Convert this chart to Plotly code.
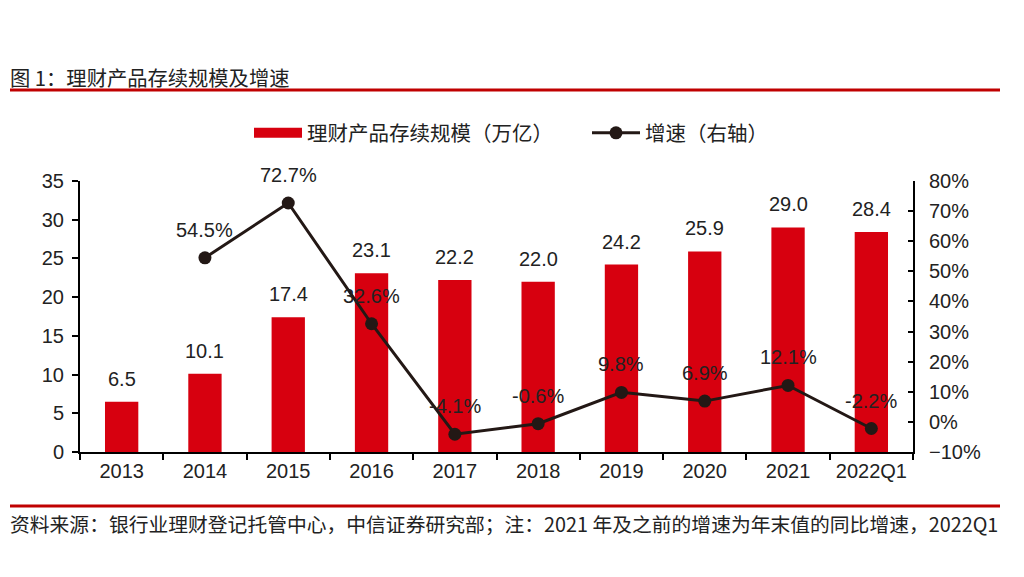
import plotly.graph_objects as go

categories = ["2013", "2014", "2015", "2016", "2017", "2018", "2019", "2020", "2021", "2022Q1"]
scale = [6.5, 10.1, 17.4, 23.1, 22.2, 22.0, 24.2, 25.9, 29.0, 28.4]
growth = [None, 54.5, 72.7, 32.6, -4.1, -0.6, 9.8, 6.9, 12.1, -2.2]

FONT = "Liberation Sans, Arial, Noto Sans CJK SC, sans-serif"
CJK = "Noto Sans CJK SC, Liberation Sans, sans-serif"
RED = "#D7000F"
DARK = "#231815"
TXT = "#222222"

L, R, T, B = 80, 111, 181, 125
PH = 577 - T - B
PW = 1024 - L - R


def py(px):
    return (577 - B - px) / PH


def pxr(px):
    return (px - L) / PW


fig = go.Figure()
fig.add_trace(go.Bar(
    x=categories, y=scale, name="理财产品存续规模（万亿）", showlegend=False,
    marker=dict(color=RED, line=dict(width=0)), width=0.4,
))
# legend stand-in for the bar series (wide red swatch)
fig.add_trace(go.Scatter(
    x=[categories[0]], y=[None], name="理财产品存续规模（万亿）", mode="lines",
    line=dict(color=RED, width=11), showlegend=True,
))
fig.add_trace(go.Scatter(
    x=categories, y=growth, name="增速（右轴）", yaxis="y2",
    mode="lines+markers", line=dict(color=DARK, width=3),
    marker=dict(color=DARK, size=13), connectgaps=False,
))

for i, v in enumerate(scale):
    fig.add_annotation(x=i, y=v, text=f"{v:.1f}", showarrow=False, yshift=23,
                       font=dict(size=20, color=TXT, family=FONT))
for i, g in enumerate(growth):
    if g is None:
        continue
    fig.add_annotation(x=i, y=g, yref="y2", text=f"{g:.1f}%", showarrow=False,
                       yshift=28, font=dict(size=20, color=TXT, family=FONT))

fig.update_layout(
    width=1024, height=577, plot_bgcolor="white", paper_bgcolor="white",
    margin=dict(l=L, r=R, t=T, b=B),
    showlegend=True,
    legend=dict(orientation="h", x=pxr(249), xanchor="left", y=py(133), yanchor="middle",
                font=dict(size=20.5, family=CJK, color=TXT), itemwidth=48,
                entrywidth=275, traceorder="normal"),
    xaxis=dict(type="category", range=[-0.5, 9.5], showline=True, linecolor="black", linewidth=2,
               ticks="outside", tickson="boundaries", ticklen=6, tickcolor="black", tickwidth=2,
               tickfont=dict(size=20, family=FONT, color=TXT), showgrid=False),
    yaxis=dict(range=[0, 35], dtick=5, showline=True, linecolor="black", linewidth=2,
               ticks="outside", ticklen=6, tickcolor="black", tickwidth=2, ticklabelstandoff=4,
               tickfont=dict(size=20, family=FONT, color=TXT), showgrid=False, zeroline=False),
    yaxis2=dict(range=[-10, 80], dtick=10, overlaying="y", side="right", ticksuffix="%",
                showline=True, linecolor="black", linewidth=2,
                ticks="inside", ticklen=5, tickcolor="black", tickwidth=2, ticklabelstandoff=10,
                tickfont=dict(size=20, family=FONT, color=TXT), showgrid=False, zeroline=False),
)

fig.add_annotation(xref="paper", yref="paper", x=pxr(8), y=py(77), xanchor="left", yanchor="middle",
                   text="图 1：理财产品存续规模及增速", showarrow=False,
                   font=dict(size=20.3, family=CJK, color=TXT))
fig.add_shape(type="line", xref="paper", yref="paper", x0=pxr(10), x1=pxr(1000),
              y0=py(90), y1=py(90), line=dict(color="#C00000", width=3))
fig.add_shape(type="line", xref="paper", yref="paper", x0=pxr(10), x1=pxr(1000),
              y0=py(506), y1=py(506), line=dict(color="#C00000", width=3))
fig.add_annotation(xref="paper", yref="paper", x=pxr(8), y=py(523),
                   xanchor="left", yanchor="middle",
                   text="资料来源：银行业理财登记托管中心，中信证券研究部；注：2021 年及之前的增速为年末值的同比增速，2022Q1",
                   showarrow=False, font=dict(size=19.8, family=CJK, color=TXT))

fig.write_html("out.html", config={"displayModeBar": False},
               post_script="document.body.style.margin='0';")
